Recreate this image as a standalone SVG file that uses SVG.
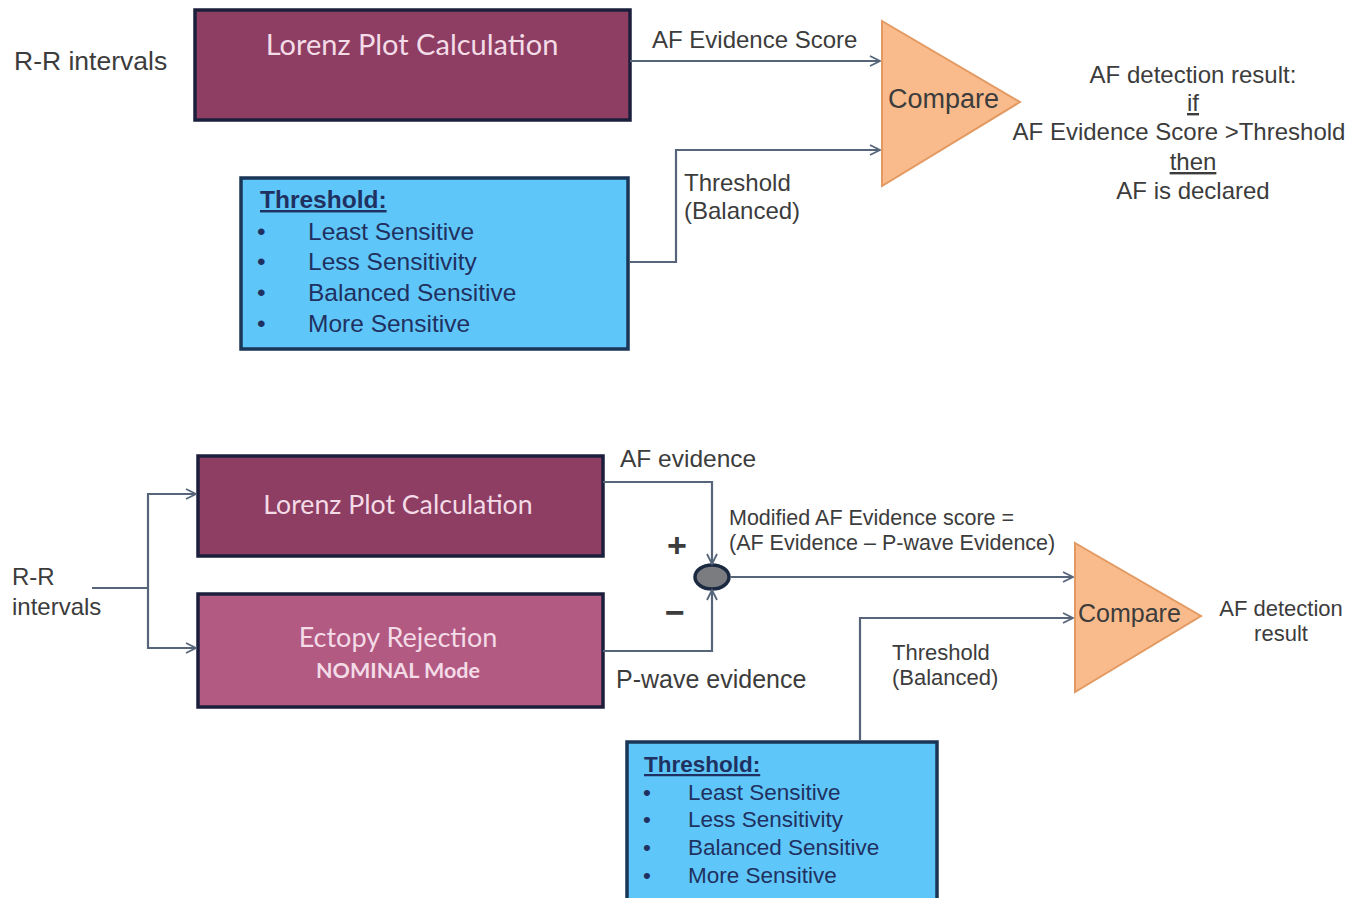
<svg xmlns="http://www.w3.org/2000/svg" width="1356" height="898" viewBox="0 0 1356 898">
  <style>
    .lbl { font-family: "Liberation Sans", Arial, sans-serif; fill: #3c3c3c; }
    .box-title { font-family: Lato, "Open Sans", sans-serif; fill: #f3dbe7; text-anchor: middle; }
    .lorenz { fill: #8e3e62; stroke: #1c1f3c; stroke-width: 3.5; }
    .ectopy { fill: #b25a82; stroke: #1c1f3c; stroke-width: 3.5; }
    .thr { fill: #5fc6f9; stroke: #1a3556; stroke-width: 3.5; }
    .thr-text { font-family: "Liberation Sans", Arial, sans-serif; fill: #1f3160; }
    .cmp { fill: #f9bb8c; stroke: #e39a62; stroke-width: 2; }
    .wire { fill: none; stroke: #56657a; stroke-width: 2.2; }
    .wire-end { fill: none; stroke: #56657a; stroke-width: 2.2; marker-end: url(#chev); }
  </style>
  <defs>
    <marker id="chev" viewBox="0 0 12 12" refX="11" refY="6" markerWidth="12" markerHeight="12" markerUnits="userSpaceOnUse" orient="auto">
      <path d="M1,1 L11,6 L1,11" fill="none" stroke="#56657a" stroke-width="1.8"/>
    </marker>
  </defs>
  <rect width="1356" height="898" fill="#ffffff"/>

  <!-- ===== Upper scheme ===== -->
  <text class="lbl" x="14" y="70" font-size="26.5">R-R intervals</text>

  <g id="lorenz-top">
    <rect class="lorenz" x="195" y="10" width="435" height="110"/>
    <text class="box-title" x="412" y="55" font-size="29">Lorenz Plot Calculation</text>
  </g>

  <g id="threshold-top">
    <rect class="thr" x="241" y="178" width="387" height="171"/>
    <text class="thr-text" x="260" y="208" font-size="24.5" font-weight="bold" text-decoration="underline">Threshold:</text>
    <g font-size="24.5" class="thr-text">
      <text x="257" y="240">•</text><text x="308" y="240">Least Sensitive</text>
      <text x="257" y="270">•</text><text x="308" y="270">Less Sensitivity</text>
      <text x="257" y="301">•</text><text x="308" y="301">Balanced Sensitive</text>
      <text x="257" y="332">•</text><text x="308" y="332">More Sensitive</text>
    </g>
  </g>

  <g id="compare-top">
    <polygon class="cmp" points="882,21 1020,102 882,186"/>
    <text class="lbl" x="888" y="108" font-size="27" fill="#333">Compare</text>
  </g>

  <g id="result-top" class="lbl" font-size="24" text-anchor="middle">
    <text x="1193" y="83">AF detection result:</text>
    <text x="1193" y="111" text-decoration="underline">if</text>
    <text x="1179" y="140">AF Evidence Score &gt;Threshold</text>
    <text x="1193" y="170" text-decoration="underline">then</text>
    <text x="1193" y="199">AF is declared</text>
  </g>

  <!-- ===== Lower scheme ===== -->
  <g id="rr-bottom" class="lbl" font-size="24">
    <text x="12" y="585">R-R</text>
    <text x="12" y="615">intervals</text>
  </g>

  <g id="lorenz-bottom">
    <rect class="lorenz" x="198" y="456" width="405" height="100"/>
    <text class="box-title" x="398" y="514" font-size="26.7">Lorenz Plot Calculation</text>
  </g>

  <g id="ectopy">
    <rect class="ectopy" x="198" y="594" width="405" height="113"/>
    <text class="box-title" x="398" y="647" font-size="27">Ectopy Rejection</text>
    <text class="box-title" x="398" y="678" font-size="21.5" font-weight="bold">NOMINAL Mode</text>
  </g>

  <g id="summer">
    <ellipse cx="712" cy="577" rx="17" ry="12" fill="#7a7c80" stroke="#1b2a40" stroke-width="3.5"/>
    <text class="lbl" x="677" y="557" font-size="34" font-weight="bold" text-anchor="middle" fill="#222">+</text>
    <text class="lbl" x="675" y="624" font-size="34" font-weight="bold" text-anchor="middle" fill="#222">−</text>
  </g>

  <g id="compare-bottom">
    <polygon class="cmp" points="1075,543 1201,616 1075,692"/>
    <text class="lbl" x="1078" y="622" font-size="25" fill="#333">Compare</text>
  </g>

  <g id="result-bottom" class="lbl" font-size="22" text-anchor="middle">
    <text x="1281" y="616">AF detection</text>
    <text x="1281" y="641">result</text>
  </g>

  <g id="threshold-bottom">
    <rect class="thr" x="627" y="742" width="310" height="160"/>
    <text class="thr-text" x="644" y="772" font-size="22.5" font-weight="bold" text-decoration="underline">Threshold:</text>
    <g font-size="22.5" class="thr-text">
      <text x="643" y="800">•</text><text x="688" y="800">Least Sensitive</text>
      <text x="643" y="827">•</text><text x="688" y="827">Less Sensitivity</text>
      <text x="643" y="855">•</text><text x="688" y="855">Balanced Sensitive</text>
      <text x="643" y="883">•</text><text x="688" y="883">More Sensitive</text>
    </g>
  </g>

  <!-- ===== Connectors ===== -->
  <g id="connectors">
    <!-- upper -->
    <path class="wire-end" d="M630,61 H880"/>
    <path class="wire-end" d="M630,262 H676 V150 H880"/>
    <!-- lower -->
    <path class="wire" d="M92,588 H148"/>
    <path class="wire-end" d="M148,588 V494 H196"/>
    <path class="wire-end" d="M148,588 V648 H196"/>
    <path class="wire-end" d="M603,482 H712 V564"/>
    <path class="wire-end" d="M603,651 H712 V590"/>
    <path class="wire-end" d="M730,577 H1073"/>
    <path class="wire-end" d="M860,741 V618 H1073"/>
  </g>

  <!-- connector labels -->
  <g id="connector-labels" class="lbl">
    <text x="652" y="48" font-size="24">AF Evidence Score</text>
    <text x="684" y="191" font-size="24">Threshold</text>
    <text x="684" y="219" font-size="24">(Balanced)</text>
    <text x="620" y="467" font-size="24.5">AF evidence</text>
    <text x="729" y="525" font-size="21.5">Modified AF Evidence score =</text>
    <text x="729" y="550" font-size="21.5">(AF Evidence – P-wave Evidence)</text>
    <text x="616" y="688" font-size="25">P-wave evidence</text>
    <text x="892" y="660" font-size="22">Threshold</text>
    <text x="892" y="685" font-size="22">(Balanced)</text>
  </g>
</svg>
